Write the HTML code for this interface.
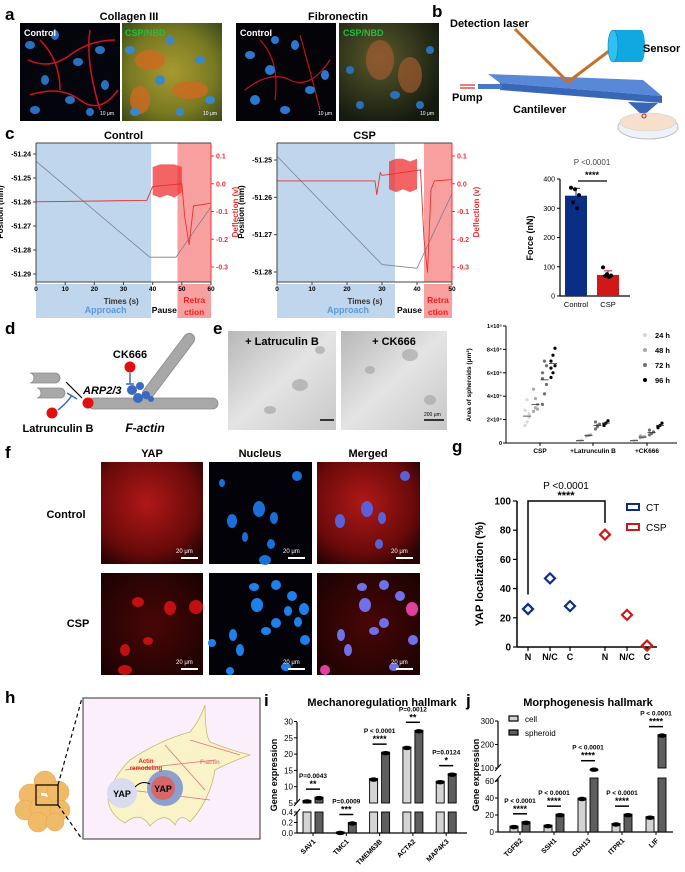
<!DOCTYPE html>
<html><head><meta charset="utf-8">
<style>
html,body{margin:0;padding:0;background:#fff;}
svg{display:block;font-family:"Liberation Sans",Arial,sans-serif;}
.lbl{font-weight:bold;font-size:17px;}
.t{font-weight:bold;font-size:11px;}
.s{font-size:7px;font-weight:bold;}
</style></head>
<body>
<svg id="fig" width="685" height="872" viewBox="0 0 685 872" xmlns="http://www.w3.org/2000/svg">
<defs>
<radialGradient id="gcol" cx="50%" cy="50%" r="70%"><stop offset="0" stop-color="#a89a30"/><stop offset="0.6" stop-color="#7a7a22"/><stop offset="1" stop-color="#3a4a18"/></radialGradient>
<radialGradient id="gfib" cx="40%" cy="35%" r="70%"><stop offset="0" stop-color="#5a5a2a"/><stop offset="1" stop-color="#141a10"/></radialGradient>
<radialGradient id="gyap" cx="45%" cy="40%" r="70%"><stop offset="0" stop-color="#b01818"/><stop offset="0.7" stop-color="#6a0a0a"/><stop offset="1" stop-color="#2a0404"/></radialGradient>
<radialGradient id="gyap2" cx="50%" cy="50%" r="70%"><stop offset="0" stop-color="#4a0606"/><stop offset="1" stop-color="#1a0202"/></radialGradient>
<linearGradient id="gbf" x1="0" y1="0" x2="1" y2="1"><stop offset="0" stop-color="#b8b8b8"/><stop offset="0.5" stop-color="#e4e4e4"/><stop offset="1" stop-color="#c8c8c8"/></linearGradient>
</defs>

<!-- Panel a -->
<g>
<text class="lbl" x="5" y="20">a</text>
<text class="t" x="129" y="20" text-anchor="middle">Collagen III</text>
<text class="t" x="338" y="20" text-anchor="middle">Fibronectin</text>
<g>
<rect x="20" y="23" width="100" height="98" fill="#04040c"/>
<path d="M28 60 Q50 70 70 55 T115 40 M30 95 Q60 85 80 100 T118 90 M40 40 Q60 60 60 90 M90 30 Q85 60 100 110" stroke="#d01020" stroke-width="1.5" fill="none"/>
<g fill="#2a70c0"><ellipse cx="30" cy="45" rx="5" ry="4"/><ellipse cx="55" cy="35" rx="4" ry="5"/><ellipse cx="78" cy="62" rx="5" ry="4"/><ellipse cx="45" cy="80" rx="4" ry="5"/><ellipse cx="100" cy="50" rx="5" ry="4"/><ellipse cx="70" cy="100" rx="5" ry="4"/><ellipse cx="105" cy="85" rx="4" ry="5"/><ellipse cx="35" cy="110" rx="5" ry="4"/><ellipse cx="90" cy="112" rx="4" ry="4"/></g>
<text x="24" y="36" fill="#fff" font-size="9" font-weight="bold">Control</text>
<text x="100" y="115" fill="#fff" font-size="5">10 μm</text>
</g>
<g>
<rect x="122" y="23" width="100" height="98" fill="url(#gcol)"/>
<g fill="#d06a20" opacity="0.8"><ellipse cx="150" cy="60" rx="15" ry="10"/><ellipse cx="190" cy="90" rx="18" ry="9"/><ellipse cx="140" cy="100" rx="10" ry="14"/></g>
<g fill="#3a88c8"><ellipse cx="130" cy="50" rx="5" ry="4"/><ellipse cx="170" cy="40" rx="4" ry="5"/><ellipse cx="200" cy="60" rx="5" ry="4"/><ellipse cx="160" cy="80" rx="5" ry="5"/><ellipse cx="210" cy="100" rx="5" ry="4"/><ellipse cx="135" cy="112" rx="5" ry="4"/><ellipse cx="180" cy="112" rx="4" ry="4"/></g>
<text x="125" y="36" fill="#20c040" font-size="9" font-weight="bold">CSP/NBD</text>
<text x="203" y="115" fill="#fff" font-size="5">10 μm</text>
</g>
<g>
<rect x="236" y="23" width="100" height="98" fill="#030308"/>
<path d="M245 90 Q270 70 290 80 T330 60 M260 40 Q280 60 275 100 M300 35 Q310 70 320 110" stroke="#c01020" stroke-width="1.2" fill="none"/>
<g fill="#2a78d0"><ellipse cx="250" cy="55" rx="5" ry="4"/><ellipse cx="270" cy="70" rx="5" ry="5"/><ellipse cx="295" cy="45" rx="4" ry="5"/><ellipse cx="310" cy="90" rx="5" ry="4"/><ellipse cx="255" cy="100" rx="5" ry="5"/><ellipse cx="285" cy="110" rx="5" ry="4"/><ellipse cx="325" cy="75" rx="4" ry="5"/><ellipse cx="275" cy="40" rx="4" ry="4"/></g>
<text x="240" y="36" fill="#fff" font-size="9" font-weight="bold">Control</text>
<text x="318" y="115" fill="#fff" font-size="5">10 μm</text>
</g>
<g>
<rect x="339" y="23" width="100" height="98" fill="url(#gfib)"/>
<g fill="#a05a30" opacity="0.7"><ellipse cx="380" cy="60" rx="14" ry="20"/><ellipse cx="410" cy="75" rx="12" ry="18"/></g>
<g fill="#2a70b8"><ellipse cx="350" cy="70" rx="4" ry="4"/><ellipse cx="395" cy="95" rx="5" ry="4"/><ellipse cx="420" cy="105" rx="4" ry="4"/><ellipse cx="360" cy="105" rx="4" ry="4"/><ellipse cx="430" cy="50" rx="4" ry="4"/></g>
<text x="343" y="36" fill="#20c040" font-size="9" font-weight="bold">CSP/NBD</text>
<text x="420" y="115" fill="#fff" font-size="5">10 μm</text>
</g>
</g>

<!-- Panel b -->
<g>
<text class="lbl" x="432" y="17">b</text>
<text class="t" x="450" y="27">Detection laser</text>
<polygon points="488,74 643,80 662,96 500,83" fill="#5a88d8"/>
<polygon points="500,83 662,96 662,103 500,90" fill="#3a66b8"/>
<polygon points="478,84 502,84 502,89 478,89" fill="#4a78c8"/>
<polygon points="628,102 658,103 643,116" fill="#3a66b8"/>
<polyline points="515,29 568,82 613,48" fill="none" stroke="#c8702a" stroke-width="3"/>
<g>
<rect x="613" y="30" width="28" height="32" fill="#10a8e0"/>
<ellipse cx="641" cy="46" rx="4" ry="16" fill="#10a8e0"/>
<ellipse cx="613" cy="46" rx="5" ry="16" fill="#30c0f0" stroke="#0a80b0" stroke-width="0.6"/>
</g>
<text class="t" x="643" y="52">Sensor</text>
<g stroke="#e02020" stroke-width="1.2"><line x1="460" y1="85" x2="475" y2="85"/><line x1="460" y1="88" x2="475" y2="88"/></g>
<text class="t" x="452" y="101">Pump</text>
<text class="t" x="513" y="113">Cantilever</text>
<g>
<ellipse cx="648" cy="127" rx="30" ry="12" fill="#eef2f6" stroke="#b8c0c8"/>
<ellipse cx="648" cy="122" rx="28" ry="9" fill="#f6e0cc" stroke="#c8d0d8" stroke-width="0.6"/>
<circle cx="644" cy="116" r="2" fill="none" stroke="#c02020"/>
</g>
</g>

<!-- Panel c -->
<g id="panelC">
<text class="lbl" x="5" y="139">c</text>
</g>

<!-- Panel d -->
<g>
<text class="lbl" x="5" y="334">d</text>
<g stroke="#8a8a8a" stroke-width="0.8" fill="#a8a8a8">
<path d="M30 373 H55 A5 5 0 0 1 55 383 H30 A4 5 0 0 0 30 373Z"/>
<path d="M37 388 H60 A5 5 0 0 1 60 398 H37 A4 5 0 0 0 37 388Z"/>
<rect x="88" y="398" width="130" height="11" rx="5.5"/>
<rect x="120" y="360" width="80" height="11" rx="5.5" transform="rotate(-53 140 395) translate(20 35)"/>
</g>
<g fill="#3a6ac0"><circle cx="132" cy="390" r="5"/><circle cx="138" cy="398" r="5"/><circle cx="146" cy="395" r="4"/><circle cx="140" cy="386" r="4"/><circle cx="151" cy="399" r="3"/></g>
<circle cx="88" cy="403" r="5.5" fill="#e01010"/>
<circle cx="52" cy="413" r="5.5" fill="#e01010"/>
<circle cx="130" cy="367" r="5.5" fill="#e01010"/>
<path d="M130 373 V384 M126 384 H134" stroke="#3a6ac0" stroke-width="1.5" fill="none"/>
<path d="M58 410 Q68 402 72 395 M67 393 L77 399" stroke="#3a6ac0" stroke-width="1.5" fill="none"/>
<path d="M66 382 L82 398" stroke="#000" stroke-width="1.2"/>
<text class="t" x="130" y="358" text-anchor="middle" font-size="12">CK666</text>
<text x="83" y="394" font-size="11" font-weight="bold" font-style="italic">ARP2/3</text>
<text class="t" x="58" y="432" text-anchor="middle" font-size="12">Latrunculin B</text>
<text x="145" y="432" font-size="12" font-weight="bold" font-style="italic" text-anchor="middle">F-actin</text>
</g>

<!-- Panel e -->
<g>
<text class="lbl" x="213" y="334">e</text>
<rect x="228" y="331" width="108" height="99" fill="url(#gbf)"/>
<rect x="341" y="331" width="106" height="99" fill="url(#gbf)"/>
<g fill="#a0a0a0" opacity="0.6"><ellipse cx="300" cy="385" rx="8" ry="6"/><ellipse cx="320" cy="350" rx="5" ry="4"/><ellipse cx="270" cy="410" rx="6" ry="4"/><ellipse cx="410" cy="355" rx="8" ry="6"/><ellipse cx="430" cy="400" rx="6" ry="5"/><ellipse cx="370" cy="370" rx="5" ry="4"/></g>
<text class="t" x="282" y="345" text-anchor="middle" font-size="9">+ Latruculin B</text>
<text class="t" x="394" y="345" text-anchor="middle" font-size="9">+ CK666</text>
<line x1="320" y1="420" x2="334" y2="420" stroke="#000" stroke-width="1.5"/>
<line x1="424" y1="420" x2="444" y2="420" stroke="#000" stroke-width="1.5"/>
<text x="424" y="416" font-size="5">200 μm</text>
</g>
<g id="panelE"></g>

<!-- Panel f -->
<g>
<text class="lbl" x="5" y="458">f</text>
<text class="t" x="152" y="457" text-anchor="middle" font-size="12">YAP</text>
<text class="t" x="260" y="457" text-anchor="middle" font-size="12">Nucleus</text>
<text class="t" x="368" y="457" text-anchor="middle" font-size="12">Merged</text>
<text class="t" x="66" y="518" text-anchor="middle" font-size="12">Control</text>
<text class="t" x="78" y="627" text-anchor="middle" font-size="12">CSP</text>
<rect x="101" y="462" width="102" height="102" fill="url(#gyap)"/>
<rect x="209" y="462" width="103" height="102" fill="#020208"/>
<rect x="317" y="462" width="103" height="102" fill="url(#gyap)"/>
<rect x="101" y="573" width="102" height="102" fill="url(#gyap2)"/>
<rect x="209" y="573" width="103" height="102" fill="#020208"/>
<rect x="317" y="573" width="103" height="102" fill="url(#gyap2)"/>
<g fill="#1870d8"><ellipse cx="259" cy="509" rx="6" ry="8"/><ellipse cx="274" cy="518" rx="4" ry="6"/><ellipse cx="232" cy="521" rx="5" ry="7"/><ellipse cx="271" cy="544" rx="4" ry="5"/><ellipse cx="222" cy="483" rx="3" ry="4"/><ellipse cx="297" cy="476" rx="5" ry="5"/><ellipse cx="245" cy="537" rx="3" ry="5"/><ellipse cx="265" cy="560" rx="6" ry="5"/></g>
<g fill="#5a60d8"><ellipse cx="367" cy="509" rx="6" ry="8"/><ellipse cx="382" cy="518" rx="4" ry="6"/><ellipse cx="340" cy="521" rx="5" ry="7"/><ellipse cx="379" cy="544" rx="4" ry="5"/><ellipse cx="405" cy="476" rx="5" ry="5"/></g>
<g fill="#c01010"><ellipse cx="138" cy="602" rx="6" ry="5"/><ellipse cx="170" cy="608" rx="6" ry="7"/><ellipse cx="196" cy="607" rx="7" ry="7"/><ellipse cx="125" cy="650" rx="5" ry="6"/><ellipse cx="148" cy="641" rx="5" ry="4"/><ellipse cx="125" cy="670" rx="7" ry="5"/></g>
<g fill="#1e80ec"><ellipse cx="254" cy="587" rx="5" ry="4"/><ellipse cx="276" cy="585" rx="5" ry="5"/><ellipse cx="292" cy="596" rx="5" ry="5"/><ellipse cx="257" cy="605" rx="6" ry="7"/><ellipse cx="304" cy="609" rx="5" ry="6"/><ellipse cx="288" cy="611" rx="4" ry="5"/><ellipse cx="276" cy="623" rx="5" ry="5"/><ellipse cx="298" cy="622" rx="4" ry="5"/><ellipse cx="266" cy="631" rx="5" ry="4"/><ellipse cx="233" cy="635" rx="4" ry="6"/><ellipse cx="212" cy="643" rx="4" ry="4"/><ellipse cx="240" cy="650" rx="4" ry="6"/><ellipse cx="230" cy="671" rx="4" ry="4"/><ellipse cx="305" cy="640" rx="5" ry="5"/><ellipse cx="286" cy="667" rx="5" ry="4"/></g>
<g fill="#7070e8"><ellipse cx="362" cy="587" rx="5" ry="4"/><ellipse cx="384" cy="585" rx="5" ry="5"/><ellipse cx="400" cy="596" rx="5" ry="5"/><ellipse cx="365" cy="605" rx="6" ry="7"/><ellipse cx="412" cy="609" rx="6" ry="7" fill="#e040a0"/><ellipse cx="384" cy="623" rx="5" ry="5"/><ellipse cx="374" cy="631" rx="5" ry="4"/><ellipse cx="341" cy="635" rx="4" ry="6"/><ellipse cx="348" cy="650" rx="4" ry="6"/><ellipse cx="413" cy="640" rx="5" ry="5"/><ellipse cx="394" cy="667" rx="5" ry="4"/><ellipse cx="325" cy="670" rx="5" ry="5" fill="#e040a0"/></g>
<g fill="#fff" font-size="6"><text x="176" y="553">20 μm</text><text x="283" y="553">20 μm</text><text x="391" y="553">20 μm</text><text x="176" y="664">20 μm</text><text x="283" y="664">20 μm</text><text x="391" y="664">20 μm</text></g>
<g stroke="#fff" stroke-width="2"><line x1="181" y1="558" x2="198" y2="558"/><line x1="288" y1="558" x2="305" y2="558"/><line x1="396" y1="558" x2="413" y2="558"/><line x1="181" y1="669" x2="198" y2="669"/><line x1="288" y1="669" x2="305" y2="669"/><line x1="396" y1="669" x2="413" y2="669"/></g>
</g>

<!-- Panel g -->
<g id="panelG">
<text class="lbl" x="452" y="452">g</text>
</g>

<!-- Panel h -->
<g>
<text class="lbl" x="5" y="703">h</text>
<g fill="#f0b860" stroke="#e0a040" stroke-width="0.5" opacity="0.95">
<circle cx="30" cy="795" r="11"/><circle cx="45" cy="782" r="11"/><circle cx="58" cy="792" r="11"/><circle cx="25" cy="810" r="10"/><circle cx="42" cy="808" r="12"/><circle cx="60" cy="810" r="10"/><circle cx="38" cy="822" r="10"/><circle cx="55" cy="822" r="9"/>
</g>
<rect x="36" y="785" width="22" height="20" fill="none" stroke="#000" stroke-width="1.2"/>
<line x1="58" y1="785" x2="82" y2="698" stroke="#000" stroke-dasharray="4,3" stroke-width="1.2"/>
<line x1="58" y1="805" x2="82" y2="839" stroke="#000" stroke-dasharray="4,3" stroke-width="1.2"/>
<rect x="83" y="698" width="177" height="141" fill="#fbeffb" stroke="#333" stroke-width="1"/>
<path d="M190 732 Q200 720 205 705 Q205 735 210 742 Q230 750 250 755 Q230 762 215 770 Q210 800 190 822 Q180 812 175 825 Q165 810 150 826 Q140 810 125 823 Q110 815 108 800 Q110 780 130 760 Q160 740 190 732Z" fill="#faf3c8" stroke="#c8b870" stroke-width="0.8"/>
<g stroke="#e07080" stroke-width="0.8" fill="none"><path d="M125 770 L215 760 M130 790 L210 800 M165 745 L205 790 M190 740 L240 755"/></g>
<circle cx="122" cy="793" r="15" fill="#d8dcee"/>
<text x="122" y="797" text-anchor="middle" font-size="9" font-weight="bold">YAP</text>
<circle cx="165" cy="788" r="18" fill="#8aa0d0"/>
<circle cx="163" cy="788" r="12" fill="#d86868"/>
<text x="163" y="792" text-anchor="middle" font-size="9" font-weight="bold">YAP</text>
<path d="M135 787 Q142 780 150 784" stroke="#000" fill="none" stroke-width="1"/>
<text x="146" y="763" text-anchor="middle" font-size="6" fill="#e02020" font-weight="bold">Actin</text>
<text x="146" y="770" text-anchor="middle" font-size="6" fill="#e02020" font-weight="bold">remodeling</text>
<text x="200" y="764" font-size="6" fill="#e08080" font-weight="bold">F-actin</text>
</g>

<g id="panelI"></g>
<g id="panelJ"></g>
</svg>

<script>
// ---------- Panel c data ----------
const ctrlPosT = [0, 39, 48, 60];
const ctrlPosV = [-51.243, -51.283, -51.283, -51.262];
const ctrlDefT = [0, 38, 40, 50, 51, 52.5, 54, 60];
const ctrlDefV = [-0.065, -0.06, -0.01, 0.0, -0.12, -0.22, -0.08, -0.07];
const ctrlOscHi = [0.06, 0.07, 0.07, 0.07, 0.06];
const ctrlOscLo = [-0.04, -0.05, -0.04, -0.05, -0.03];
const cspPosT = [0, 30, 40, 50];
const cspPosV = [-51.249, -51.278, -51.279, -51.259];
const cspDefT = [0, 28, 28.5, 29.5, 30, 41, 42, 43, 44, 45, 50];
const cspDefV = [0.01, 0.01, -0.04, 0.04, 0.03, 0.05, -0.2, -0.32, -0.02, 0.01, 0.015];
const cspOscHi = [0.08, 0.09, 0.09, 0.08, 0.09];
const cspOscLo = [-0.02, -0.03, -0.02, -0.03, -0.02];
const forceCats = ["Control", "CSP"];
const forceMeans = [343, 72];
const forceSd = [25, 14];
const forceCtrlPts = [370, 365, 345, 320, 300];
const forceCspPts = [98, 75, 70, 68, 65];
const forceTicks = [0, 100, 200, 300, 400];

// ---------- Panel e data ----------
const sphCats = ["CSP", "+Latrunculin B", "+CK666"];
const sphTimes = ["24 h", "48 h", "72 h", "96 h"];
const sphMeans = [[23000, 33000, 54000, 68000], [2000, 6500, 15000, 17000], [2000, 5000, 9000, 15000]];
const sphPts = [
 [[15000,18000,22000,28000,37000,25000],[27000,30000,33000,46000,38000,29000],[33000,42000,50000,60000,70000,66000,55000],[56000,60000,66000,70000,75000,81000,64000]],
 [[1500,2000,2500],[6000,6500,7000],[12000,14000,16000,18000,15000],[15000,17000,19000,16000]],
 [[1500,2000,2500],[4500,5000,5500,6000],[7000,8000,9500,11000],[13000,15000,17000,14000]]
];
const sphTicks = [0, 20000, 40000, 60000, 80000, 100000];
const sphTickLabels = ["0", "2×10⁴", "4×10⁴", "6×10⁴", "8×10⁴", "1×10⁵"];
const sphColors = ["#d8d8d8", "#a8a8a8", "#707070", "#000000"];

// ---------- Panel g data ----------
const yapCats = ["N", "N/C", "C", "N", "N/C", "C"];
const yapCT = [26, 47, 28];
const yapCSP = [77, 22, 1];
const yapTicks = [0, 20, 40, 60, 80, 100];

// ---------- Panel i data ----------
const mechGenes = ["SAV1", "TMC1", "TMEM63B", "ACTA2", "MAP4K3"];
const mechCell = [5.8, 0.02, 12.5, 22.2, 11.7];
const mechSph = [6.8, 0.2, 20.6, 27.3, 14.0];
const mechP = ["P=0.0043", "P=0.0009", "P < 0.0001", "P=0.0012", "P=0.0124"];
const mechStars = ["**", "***", "****", "**", "*"];
const mechTicksHi = [5, 10, 15, 20, 25, 30];
const mechTicksLo = [0.0, 0.2, 0.4];

// ---------- Panel j data ----------
const morphGenes = ["TGFB2", "SSH1", "CDH13", "ITPR1", "LIF"];
const morphCell = [7, 8, 40, 10, 18];
const morphSph = [12, 21, 97, 21, 242];
const morphP = ["P < 0.0001", "P < 0.0001", "P < 0.0001", "P < 0.0001", "P < 0.0001"];
const morphStars = ["****", "****", "****", "****", "****"];
const morphTicksLo = [0, 20, 40, 60];
const morphTicksHi = [100, 200, 300];

const NS = "http://www.w3.org/2000/svg";
function mk(parent, tag, attrs, txt) {
  const e = document.createElementNS(NS, tag);
  for (const k in attrs) e.setAttribute(k, attrs[k]);
  if (txt !== undefined) e.textContent = txt;
  parent.appendChild(e);
  return e;
}

// ===== Panel c =====
(function () {
  const g = document.getElementById("panelC");
  function afm(opt) {
    const x = t => opt.x0 + (t / opt.tmax) * (opt.x1 - opt.x0);
    const yp = v => opt.py0 + (opt.pv0 - v) / (opt.pv0 - opt.pv1) * (opt.py1 - opt.py0);
    const yd = v => 156 + (0.1 - v) / 0.4 * 111;
    let r;
    r = mk(g, "rect", { x: opt.x0, y: 143, width: x(opt.pauseStart) - opt.x0, height: 139, fill: "#c0d6ec" });
    
    
    r = mk(g, "rect", { x: x(opt.retrStart), y: 143, width: opt.x1 - x(opt.retrStart), height: 139, fill: "#f8a0a0" });
    
    
    mk(g, "rect", { x: opt.x0, y: 284, width: x(opt.pauseStart) - opt.x0, height: 34, fill: "#c0d6ec" });
    mk(g, "rect", { x: x(opt.retrStart), y: 284, width: opt.x1 - x(opt.retrStart), height: 34, fill: "#f8a0a0" });
    const n = opt.oscHi.length;
    let pts = [];
    for (let i = 0; i < n; i++) pts.push(x(opt.oscT0 + i * (opt.oscT1 - opt.oscT0) / (n - 1)) + "," + yd(opt.oscHi[i]));
    for (let i = n - 1; i >= 0; i--) pts.push(x(opt.oscT0 + i * (opt.oscT1 - opt.oscT0) / (n - 1)) + "," + yd(opt.oscLo[i]));
    r = mk(g, "polygon", { points: pts.join(" "), fill: "#f03030", opacity: 0.75 });
    
    
    r = mk(g, "polyline", { points: opt.pT.map((t, i) => x(t) + "," + yp(opt.pV[i])).join(" "), fill: "none", stroke: "#7a8090", "stroke-width": 0.8 });
    
    
    r = mk(g, "polyline", { points: opt.dT.map((t, i) => x(t) + "," + yd(opt.dV[i])).join(" "), fill: "none", stroke: "#e83030", "stroke-width": 0.9 });
    
    
    mk(g, "line", { x1: opt.x0, y1: 143, x2: opt.x0, y2: 282, stroke: "#444", "stroke-width": 1 });
    mk(g, "line", { x1: opt.x0, y1: 282, x2: opt.x1, y2: 282, stroke: "#444", "stroke-width": 1 });
    mk(g, "line", { x1: opt.x0, y1: 143, x2: opt.x1, y2: 143, stroke: "#444", "stroke-width": 1 });
    mk(g, "line", { x1: opt.x1, y1: 143, x2: opt.x1, y2: 282, stroke: "#f03030", "stroke-width": 1 });
    opt.pTicks.forEach(v => {
      mk(g, "line", { x1: opt.x0 - 3, y1: yp(v), x2: opt.x0, y2: yp(v), stroke: "#444" });
      mk(g, "text", { x: opt.x0 - 5, y: yp(v) + 2.5, "text-anchor": "end", "font-size": 7, "font-weight": "bold" }, v.toFixed(2));
    });
    [0.1, 0.0, -0.1, -0.2, -0.3].forEach(v => {
      mk(g, "line", { x1: opt.x1, y1: yd(v), x2: opt.x1 + 3, y2: yd(v), stroke: "#f03030" });
      mk(g, "text", { x: opt.x1 + 5, y: yd(v) + 2.5, "font-size": 7, "font-weight": "bold", fill: "#f03030" }, v.toFixed(1));
    });
    for (let t = 0; t <= opt.tmax; t += 10) {
      mk(g, "line", { x1: x(t), y1: 282, x2: x(t), y2: 285, stroke: "#444" });
      mk(g, "text", { x: x(t), y: 291, "text-anchor": "middle", "font-size": 6.5, "font-weight": "bold" }, t);
    }
    mk(g, "text", { class: "t", x: (opt.x0 + opt.x1) / 2, y: 139, "text-anchor": "middle" }, opt.title);
    mk(g, "text", { x: 0, y: 0, transform: `translate(${opt.x0 - 33},212) rotate(-90)`, "text-anchor": "middle", "font-size": 8, "font-weight": "bold" }, "Position (mm)");
    mk(g, "text", { x: 0, y: 0, transform: `translate(${opt.x1 + 27},212) rotate(-90)`, "text-anchor": "middle", "font-size": 8, "font-weight": "bold", fill: "#f03030" }, "Deflection (v)");
    mk(g, "text", { x: x(opt.pauseStart) - 30, y: 304, "text-anchor": "middle", "font-size": 8, "font-weight": "bold", fill: "#333" }, "Times (s)");
    mk(g, "text", { x: (opt.x0 + x(opt.pauseStart)) / 2 + 12, y: 313, "text-anchor": "middle", "font-size": 9, "font-weight": "bold", fill: "#5a9ad8" }, "Approach");
    mk(g, "text", { x: (x(opt.pauseStart) + x(opt.retrStart)) / 2, y: 313, "text-anchor": "middle", "font-size": 8.5, "font-weight": "bold" }, "Pause");
    mk(g, "text", { x: (x(opt.retrStart) + opt.x1) / 2, y: 303, "text-anchor": "middle", "font-size": 8.5, "font-weight": "bold", fill: "#f02020" }, "Retra");
    mk(g, "text", { x: (x(opt.retrStart) + opt.x1) / 2, y: 315, "text-anchor": "middle", "font-size": 8.5, "font-weight": "bold", fill: "#f02020" }, "ction");
  }
  afm({ title: "Control", x0: 36, x1: 211, tmax: 60, pauseStart: 39.5, retrStart: 48.5, py0: 154, pv0: -51.24, py1: 274, pv1: -51.29,
    pTicks: [-51.24, -51.25, -51.26, -51.27, -51.28, -51.29], pT: ctrlPosT, pV: ctrlPosV, dT: ctrlDefT, dV: ctrlDefV, oscT0: 40, oscT1: 50, oscHi: ctrlOscHi, oscLo: ctrlOscLo });
  afm({ title: "CSP", x0: 277, x1: 452, tmax: 50, pauseStart: 33.7, retrStart: 42, py0: 160, pv0: -51.25, py1: 272, pv1: -51.28,
    pTicks: [-51.25, -51.26, -51.27, -51.28], pT: cspPosT, pV: cspPosV, dT: cspDefT, dV: cspDefV, oscT0: 32, oscT1: 40, oscHi: cspOscHi, oscLo: cspOscLo });

  const fy = v => 296 - v * (117 / 400);
  const fx = [576, 608];
  mk(g, "line", { x1: 560, y1: 179, x2: 560, y2: 296, stroke: "#000", "stroke-width": 1.2 });
  mk(g, "line", { x1: 560, y1: 296, x2: 630, y2: 296, stroke: "#000", "stroke-width": 1.2 });
  forceTicks.forEach(v => {
    mk(g, "line", { x1: 557, y1: fy(v), x2: 560, y2: fy(v), stroke: "#000" });
    mk(g, "text", { x: 555, y: fy(v) + 2.5, "text-anchor": "end", "font-size": 7 }, v);
  });
  const colors = ["#0a2d86", "#d01818"];
  forceMeans.forEach((m, i) => {
    const b = mk(g, "rect", { x: fx[i] - 11, y: fy(m), width: 22, height: fy(0) - fy(m), fill: colors[i] });
    
    
    mk(g, "line", { x1: fx[i], y1: fy(m + forceSd[i]), x2: fx[i], y2: fy(m), stroke: colors[i], "stroke-width": 1 });
    mk(g, "line", { x1: fx[i] - 4, y1: fy(m + forceSd[i]), x2: fx[i] + 4, y2: fy(m + forceSd[i]), stroke: colors[i], "stroke-width": 1 });
    mk(g, "text", { x: fx[i], y: 307, "text-anchor": "middle", "font-size": 7.5 }, forceCats[i]);
  });
  [forceCtrlPts, forceCspPts].forEach((arr, i) => arr.forEach((v, k) => {
    const d = mk(g, "circle", { cx: fx[i] - 5 + (k % 3) * 4 + (k > 2 ? 2 : 0), cy: fy(v), r: 2, fill: "#000" });
    
    
  }));
  mk(g, "line", { x1: 578, y1: 181, x2: 607, y2: 181, stroke: "#000", "stroke-width": 1.2 });
  mk(g, "text", { x: 592, y: 165, "text-anchor": "middle", "font-size": 8, fill: "#444" }, "P <0.0001");
  mk(g, "text", { x: 592, y: 178, "text-anchor": "middle", "font-size": 9, "font-weight": "bold" }, "****");
  mk(g, "text", { x: 0, y: 0, transform: "translate(533,238) rotate(-90)", "text-anchor": "middle", "font-size": 9, "font-weight": "bold" }, "Force (nN)");
})();

// ===== Panel e chart =====
(function () {
  const g = document.getElementById("panelE");
  const y = v => 443 - v / 100000 * 117;
  const catX = [540, 593, 647];
  const off = [-13, -4.5, 4.5, 13];
  mk(g, "line", { x1: 506, y1: 326, x2: 506, y2: 443, stroke: "#000" });
  mk(g, "line", { x1: 506, y1: 443, x2: 677, y2: 443, stroke: "#000" });
  sphTicks.forEach((v, i) => {
    mk(g, "line", { x1: 503, y1: y(v), x2: 506, y2: y(v), stroke: "#000" });
    mk(g, "text", { x: 502, y: y(v) + 2, "text-anchor": "end", "font-size": 5.5, "font-weight": "bold" }, sphTickLabels[i]);
  });
  mk(g, "text", { x: 0, y: 0, transform: "translate(471,385) rotate(-90)", "text-anchor": "middle", "font-size": 6.5, "font-weight": "bold" }, "Area of spheroids (μm²)");
  sphCats.forEach((c, ci) => {
    mk(g, "line", { x1: catX[ci], y1: 443, x2: catX[ci], y2: 446, stroke: "#000" });
    mk(g, "text", { x: catX[ci], y: 453, "text-anchor": "middle", "font-size": 6.5, "font-weight": "bold" }, c);
    sphMeans[ci].forEach((m, ti) => {
      const cx = catX[ci] + off[ti];
      sphPts[ci][ti].forEach((v, k) => {
        const d = mk(g, "circle", { cx: cx + ((k % 3) - 1) * 2, cy: y(v), r: 1.6, fill: sphColors[ti] });
        
        
      });
      mk(g, "line", { x1: cx - 4, y1: y(m), x2: cx + 4, y2: y(m), stroke: "#333", "stroke-width": 0.8 });
    });
  });
  sphTimes.forEach((t, i) => {
    mk(g, "circle", { cx: 645, cy: 335 + i * 15, r: 2, fill: sphColors[i] });
    const l = mk(g, "text", { x: 655, y: 338 + i * 15, "font-size": 7.5, "font-weight": "bold" }, t);
    
    
  });
})();

// ===== Panel g =====
(function () {
  const g = document.getElementById("panelG");
  const y = v => 647 - v * 1.46;
  const xs = [528, 550, 570, 605, 627, 647];
  mk(g, "line", { x1: 517, y1: 501, x2: 517, y2: 647, stroke: "#000", "stroke-width": 1.5 });
  mk(g, "line", { x1: 517, y1: 647, x2: 657, y2: 647, stroke: "#000", "stroke-width": 1.5 });
  yapTicks.forEach(v => {
    mk(g, "line", { x1: 513, y1: y(v), x2: 517, y2: y(v), stroke: "#000", "stroke-width": 1.2 });
    mk(g, "text", { x: 511, y: y(v) + 3.5, "text-anchor": "end", "font-size": 10, "font-weight": "bold" }, v);
  });
  yapCats.forEach((c, i) => {
    mk(g, "line", { x1: xs[i], y1: 647, x2: xs[i], y2: 651, stroke: "#000", "stroke-width": 1.2 });
    mk(g, "text", { x: xs[i], y: 660, "text-anchor": "middle", "font-size": 9, "font-weight": "bold" }, c);
  });
  function diamond(cx, v, col, name) {
    const cy = y(v);
    const d = mk(g, "polygon", { points: `${cx},${cy - 5} ${cx + 5},${cy} ${cx},${cy + 5} ${cx - 5},${cy}`, fill: "none", stroke: col, "stroke-width": 2.2 });
    
    
  }
  yapCT.forEach((v, i) => diamond(xs[i], v, "#0a2d86", "ct-point"));
  yapCSP.forEach((v, i) => diamond(xs[i + 3], v, "#d01818", "csp-point"));
  mk(g, "polyline", { points: `${xs[0]},${y(yapCT[0] + 10)} ${xs[0]},501 ${xs[3]},501 ${xs[3]},${y(yapCSP[0] + 8)}`, fill: "none", stroke: "#000", "stroke-width": 1.5 });
  mk(g, "text", { x: 566, y: 489, "text-anchor": "middle", "font-size": 10 }, "P <0.0001");
  mk(g, "text", { x: 566, y: 499, "text-anchor": "middle", "font-size": 11, "font-weight": "bold" }, "****");
  mk(g, "text", { x: 0, y: 0, transform: "translate(483,574) rotate(-90)", "text-anchor": "middle", "font-size": 11, "font-weight": "bold" }, "YAP localization (%)");
  [["CT", "#0a2d86"], ["CSP", "#d01818"]].forEach((e, i) => {
    mk(g, "rect", { x: 627, y: 504 + i * 20, width: 12, height: 6, fill: "none", stroke: e[1], "stroke-width": 2 });
    const l = mk(g, "text", { x: 646, y: 511 + i * 20, "font-size": 10 }, e[0]);
    
    
  });
})();

// ===== bar chart helper for i/j =====
function barBreak(gid, o) {
  const g = document.getElementById(gid);
  const y = v => v <= o.loMax ? o.y0 - v * o.loScale : o.hiBase - (v - o.hiMin) * o.hiScale;
  mk(g, "text", { class: "lbl", x: o.labelX, y: 706 }, o.label);
  mk(g, "text", { class: "t", x: o.titleX, y: 706, "text-anchor": "middle" }, o.title);
  mk(g, "line", { x1: o.ax, y1: o.yTop, x2: o.ax, y2: o.gapBot, stroke: "#000", "stroke-width": 1.2 });
  mk(g, "line", { x1: o.ax, y1: o.gapTop, x2: o.ax, y2: o.y0, stroke: "#000", "stroke-width": 1.2 });
  mk(g, "line", { x1: o.ax - 3, y1: o.gapBot + 3, x2: o.ax + 3, y2: o.gapBot - 4, stroke: "#000" });
  mk(g, "line", { x1: o.ax - 3, y1: o.gapTop + 4, x2: o.ax + 3, y2: o.gapTop - 3, stroke: "#000" });
  mk(g, "line", { x1: o.ax, y1: o.y0, x2: o.axEnd, y2: o.y0, stroke: "#000", "stroke-width": 1.2 });
  o.ticksLo.concat(o.ticksHi).forEach(v => {
    mk(g, "line", { x1: o.ax - 3, y1: y(v), x2: o.ax, y2: y(v), stroke: "#000" });
    mk(g, "text", { x: o.ax - 4, y: y(v) + 3, "text-anchor": "end", "font-size": 8 }, o.fmt(v));
  });
  mk(g, "text", { x: 0, y: 0, transform: `translate(${o.ylX},775) rotate(-90)`, "text-anchor": "middle", "font-size": 9, "font-weight": "bold" }, "Gene expression");
  o.genes.forEach((gn, i) => {
    const cx = o.x0 + i * o.dx;
    [[o.cell[i], "#d4d4d4", -6, "cell"], [o.sph[i], "#5e5e5e", 6, "spheroid"]].forEach(b => {
      const v = b[0], bx = cx + b[2] - 4;
      const top = y(v);
      if (v > o.loMax) {
        const r1 = mk(g, "rect", { x: bx, y: o.gapTop, width: 8, height: o.y0 - o.gapTop, fill: b[1], stroke: "#000", "stroke-width": 0.9 });
        
        
        const r2 = mk(g, "rect", { x: bx, y: top, width: 8, height: o.gapBot - top, fill: b[1], stroke: "#000", "stroke-width": 0.9 });
        
        
      } else {
        const r = mk(g, "rect", { x: bx, y: top, width: 8, height: o.y0 - top, fill: b[1], stroke: "#000", "stroke-width": 0.9 });
        
        
      }
      mk(g, "ellipse", { cx: bx + 4, cy: top + 1, rx: 4.5, ry: 2.2, fill: "#000" });
    });
    const ann = Math.min(y(o.cell[i]), y(o.sph[i])) - 8;
    mk(g, "line", { x1: cx - 7, y1: ann, x2: cx + 7, y2: ann, stroke: "#000", "stroke-width": 1.5 });
    mk(g, "text", { x: cx, y: ann - 2, "text-anchor": "middle", "font-size": 9, "font-weight": "bold" }, o.stars[i]);
    mk(g, "text", { x: cx, y: ann - 11, "text-anchor": "middle", "font-size": 6.5, "font-weight": "bold" }, o.p[i]);
    mk(g, "line", { x1: cx, y1: o.y0, x2: cx, y2: o.y0 + 3, stroke: "#000" });
    mk(g, "text", { x: 0, y: 0, transform: `translate(${cx + 3},${o.y0 + 9}) rotate(-45)`, "text-anchor": "end", "font-size": 7, "font-weight": "bold" }, gn);
  });
}
barBreak("panelI", { label: "i", labelX: 264, title: "Mechanoregulation hallmark", titleX: 382, ax: 297, axEnd: 467, y0: 833, yTop: 722,
  loMax: 0.4, loScale: 52.5, hiMin: 5, hiBase: 803, hiScale: 3.26, gapTop: 812, gapBot: 803,
  ticksLo: mechTicksLo, ticksHi: mechTicksHi, fmt: v => v < 1 ? v.toFixed(1) : String(v), ylX: 277,
  genes: mechGenes, cell: mechCell, sph: mechSph, p: mechP, stars: mechStars, x0: 313, dx: 33.3 });
barBreak("panelJ", { label: "j", labelX: 466, title: "Morphogenesis hallmark", titleX: 588, ax: 498, axEnd: 673, y0: 832, yTop: 721,
  loMax: 60, loScale: 0.85, hiMin: 100, hiBase: 768, hiScale: 0.235, gapTop: 778, gapBot: 768,
  ticksLo: morphTicksLo, ticksHi: morphTicksHi, fmt: v => String(v), ylX: 479,
  genes: morphGenes, cell: morphCell, sph: morphSph, p: morphP, stars: morphStars, x0: 520, dx: 34 });
(function () {
  const g = document.getElementById("panelJ");
  [["cell", "#d4d4d4"], ["spheroid", "#5e5e5e"]].forEach((e, i) => {
    mk(g, "rect", { x: 509, y: 716 + i * 14, width: 9, height: 5, fill: e[1], stroke: "#000", "stroke-width": 1.2 });
    const l = mk(g, "text", { x: 525, y: 722 + i * 14, "font-size": 8 }, e[0]);
    
    
  });
})();
</script>
</body></html>
